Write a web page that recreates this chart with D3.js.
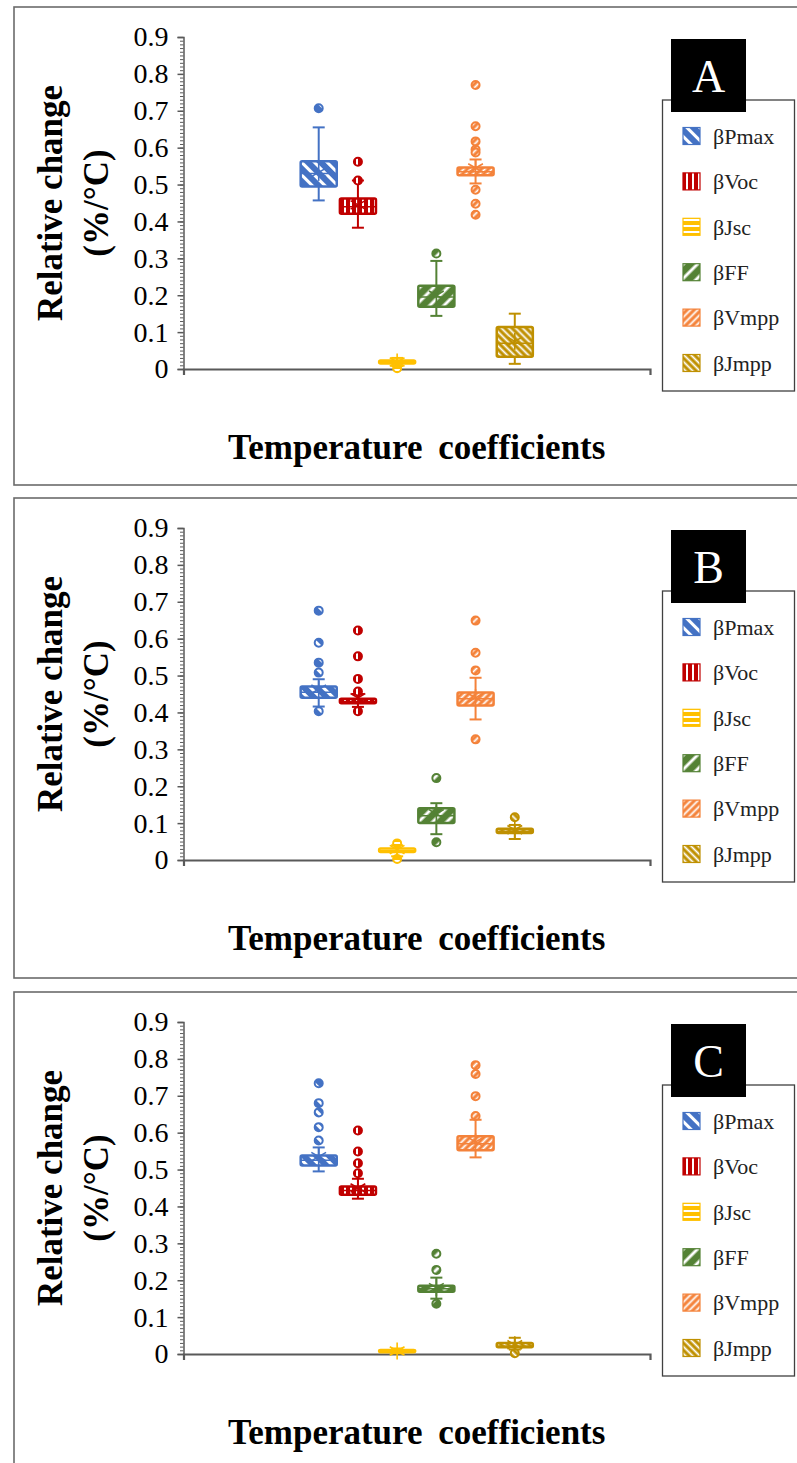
<!DOCTYPE html>
<html lang="en">
<head>
<meta charset="utf-8">
<script src="https://d3js.org/d3.v7.min.js"></script>
<style>
  body { margin: 0; background: #fff; }
</style>
</head>
<body>
<div id="chart"></div>
<script>
  var series = ["βPmax", "βVoc", "βJsc", "βFF", "βVmpp", "βJmpp"];
  var colors = ["#4472C4", "#C00000", "#FFC000", "#548235", "#F4823A", "#BF9000"];
  var category = ["Temperature coefficients"];
  var yTicks = [0, 0.1, 0.2, 0.3, 0.4, 0.5, 0.6, 0.7, 0.8, 0.9];
  var panelLabels = ["A", "B", "C"];

  // box stats per series: lo whisker, q1, median, q3, hi whisker, mean
  var statsA = [
    {lo: 0.457, q1: 0.495, med: 0.530, q3: 0.563, hi: 0.655, mean: 0.533},
    {lo: 0.383, q1: 0.421, med: 0.440, q3: 0.462, hi: 0.511, mean: 0.445},
    {lo: 0.008, q1: 0.015, med: 0.019, q3: 0.023, hi: 0.030, mean: 0.019},
    {lo: 0.144, q1: 0.169, med: 0.195, q3: 0.226, hi: 0.293, mean: 0.200},
    {lo: 0.503, q1: 0.525, med: 0.535, q3: 0.546, hi: 0.568, mean: 0.545},
    {lo: 0.014, q1: 0.033, med: 0.070, q3: 0.114, hi: 0.150, mean: 0.075}
  ];
  var outA = [
    [0.707],
    [0.562, 0.511],
    [0.002],
    [0.313],
    [0.770, 0.658, 0.617, 0.595, 0.587, 0.486, 0.448, 0.418],
    []
  ];

  var statsB = [
    {lo: 0.416, q1: 0.440, med: 0.455, q3: 0.470, hi: 0.490, mean: 0.463},
    {lo: 0.415, q1: 0.425, med: 0.430, q3: 0.437, hi: 0.450, mean: 0.440},
    {lo: 0.010, q1: 0.022, med: 0.026, q3: 0.031, hi: 0.040, mean: 0.028},
    {lo: 0.070, q1: 0.100, med: 0.120, q3: 0.140, hi: 0.154, mean: 0.125},
    {lo: 0.381, q1: 0.419, med: 0.437, q3: 0.454, hi: 0.494, mean: 0.440},
    {lo: 0.057, q1: 0.073, med: 0.078, q3: 0.085, hi: 0.095, mean: 0.082}
  ];
  var outB = [
    [0.676, 0.589, 0.535, 0.508, 0.403],
    [0.622, 0.552, 0.491, 0.457, 0.403],
    [0.045, 0.003],
    [0.222, 0.048],
    [0.649, 0.562, 0.514, 0.327],
    [0.116]
  ];

  var statsC = [
    {lo: 0.495, q1: 0.511, med: 0.525, q3: 0.538, hi: 0.560, mean: 0.535},
    {lo: 0.421, q1: 0.432, med: 0.443, q3: 0.454, hi: 0.475, mean: 0.450},
    {lo: 0.002, q1: 0.005, med: 0.007, q3: 0.011, hi: 0.015, mean: 0.008},
    {lo: 0.150, q1: 0.169, med: 0.177, q3: 0.185, hi: 0.207, mean: 0.180},
    {lo: 0.533, q1: 0.552, med: 0.570, q3: 0.590, hi: 0.635, mean: 0.575},
    {lo: 0.012, q1: 0.018, med: 0.022, q3: 0.030, hi: 0.044, mean: 0.025}
  ];
  var outC = [
    [0.734, 0.680, 0.655, 0.615, 0.579],
    [0.606, 0.549, 0.517, 0.490],
    [],
    [0.272, 0.228, 0.136],
    [0.783, 0.759, 0.699, 0.645],
    [0.002]
  ];

  var W = 797, H = 1463;
  var serif = "'Liberation Serif', 'Times New Roman', 'DejaVu Serif', serif";
  var svg = d3.select("#chart").append("svg")
      .attr("width", W)
      .attr("height", H)
      .attr("font-family", serif);

  // hatch fills, one per series
  var hatch = [
    {size: 9, stripe: 3, rot: -45},
    {size: 6, stripe: 2, rot: 0},
    {size: 6, stripe: 2, rot: 90},
    {size: 10, stripe: 3, rot: 45},
    {size: 5, stripe: 1.8, rot: 45},
    {size: 5, stripe: 1.8, rot: -45}
  ];
  var defs = svg.append("defs");
  hatch.forEach(function(h, i) {
    var p = defs.append("pattern")
        .attr("id", "pat" + i)
        .attr("patternUnits", "userSpaceOnUse")
        .attr("width", h.size)
        .attr("height", h.size)
        .attr("patternTransform", "rotate(" + h.rot + ")");
    p.append("rect").attr("width", h.size).attr("height", h.size).attr("fill", colors[i]);
    p.append("rect")
        .attr("x", (h.size - h.stripe) / 2)
        .attr("width", h.stripe)
        .attr("height", h.size)
        .attr("fill", "#fff");
  });

  var panels = [
    {label: panelLabels[0], top: 7, frameH: 478, stats: statsA, out: outA},
    {label: panelLabels[1], top: 498, frameH: 480, stats: statsB, out: outB},
    {label: panelLabels[2], top: 992, frameH: 600, stats: statsC, out: outC}
  ];

  var axisX = 183.5, axisEnd = 650, zeroY = 362, topY = 30;
  var minorTicks = d3.range(0, 91).map(function(i) { return i / 100; });

  panels.forEach(function(p) {
    var g = svg.append("g").attr("transform", "translate(0," + p.top + ")");

    g.append("rect")
        .attr("x", 14).attr("y", 0)
        .attr("width", 820).attr("height", p.frameH)
        .attr("fill", "none")
        .attr("stroke", "#6b6b6b")
        .attr("stroke-width", 1.6);

    var y = d3.scaleLinear().domain([0, 0.9]).range([zeroY, topY]);
    var x = d3.scaleBand().domain(category).range([axisX, axisEnd])
        .paddingInner(0).paddingOuter(0.498);
    var xs = d3.scaleBand().domain(series)
        .range([x(category[0]), x(category[0]) + x.bandwidth()])
        .paddingInner(0.08).paddingOuter(0.02);
    var bw = xs.bandwidth();

    // minor ticks
    var minor = g.append("g")
        .attr("transform", "translate(" + axisX + ",0)")
        .call(d3.axisLeft(y).tickValues(minorTicks).tickSize(3.5).tickFormat(""));
    minor.select(".domain").remove();
    minor.selectAll("line").attr("stroke", "#595959").attr("stroke-width", 1);

    var yAxis = g.append("g")
        .attr("transform", "translate(" + axisX + ",0)")
        .call(d3.axisLeft(y).tickValues(yTicks).tickSize(6).tickPadding(9)
          .tickFormat(function(d) { return d === 0 ? "0" : d3.format(".1f")(d); }));
    yAxis.attr("font-family", serif).attr("font-size", 28);
    yAxis.selectAll("text").attr("fill", "#000");
    yAxis.selectAll("line, path").attr("stroke", "#595959").attr("stroke-width", 1.5);

    var xAxis = g.append("g")
        .attr("transform", "translate(0," + zeroY + ")")
        .call(d3.axisBottom(x).tickValues([]).tickSizeOuter(6));
    xAxis.select(".domain").attr("stroke", "#595959").attr("stroke-width", 2.2);

    // boxes
    series.forEach(function(s, i) {
      var st = p.stats[i];
      var col = colors[i];
      var x0 = xs(s), cx = x0 + bw / 2;
      var b = g.append("g");

      b.append("line")
          .attr("x1", cx).attr("x2", cx)
          .attr("y1", y(st.lo)).attr("y2", y(st.hi))
          .attr("stroke", col).attr("stroke-width", 2);
      [st.lo, st.hi].forEach(function(v) {
        b.append("line")
            .attr("x1", cx - 6).attr("x2", cx + 6)
            .attr("y1", y(v)).attr("y2", y(v))
            .attr("stroke", col).attr("stroke-width", 2);
      });

      b.append("rect")
          .attr("x", x0).attr("y", y(st.q3))
          .attr("width", bw).attr("height", Math.max(1, y(st.q1) - y(st.q3)))
          .attr("rx", 1.5)
          .attr("fill", "url(#pat" + i + ")")
          .attr("stroke", col).attr("stroke-width", 2.5);

      b.append("line")
          .attr("x1", x0).attr("x2", x0 + bw)
          .attr("y1", y(st.med)).attr("y2", y(st.med))
          .attr("stroke", col).attr("stroke-width", 1.5);

      // mean marker
      [90, 30, -30].forEach(function(a) {
        var r = 8.5, t = a * Math.PI / 180;
        b.append("line")
            .attr("x1", cx - r * Math.cos(t)).attr("x2", cx + r * Math.cos(t))
            .attr("y1", y(st.mean) - r * Math.sin(t)).attr("y2", y(st.mean) + r * Math.sin(t))
            .attr("stroke", col).attr("stroke-width", 1.6);
      });

      b.selectAll("circle")
          .data(p.out[i])
          .enter()
          .append("circle")
          .attr("cx", cx)
          .attr("cy", function(d) { return y(d); })
          .attr("r", 4)
          .attr("fill", "url(#pat" + i + ")")
          .attr("stroke", col)
          .attr("stroke-width", 2);
    });

    // axis titles
    var midY = (y(0) + y(0.9)) / 2;
    var yt = g.append("text")
        .attr("transform", "translate(0," + midY + ") rotate(-90)")
        .attr("text-anchor", "middle")
        .attr("font-weight", "bold")
        .attr("font-size", 35);
    yt.append("tspan").attr("x", 0).attr("y", 62).text("Relative change");
    yt.append("tspan").attr("x", 0).attr("y", 108).text("(%/°C)");

    g.append("text")
        .attr("x", (axisX + axisEnd) / 2)
        .attr("y", zeroY + 90)
        .attr("text-anchor", "middle")
        .attr("font-weight", "bold")
        .attr("font-size", 35)
        .attr("word-spacing", 7)
        .text(category[0]);

    // legend
    var lgTop = zeroY - 269;
    g.append("rect")
        .attr("x", 662.5).attr("y", lgTop)
        .attr("width", 132).attr("height", 291)
        .attr("fill", "#fff")
        .attr("stroke", "#404040").attr("stroke-width", 1.3);
    series.forEach(function(s, i) {
      var cy = lgTop + 36 + i * 45.4;
      g.append("rect")
          .attr("x", 683).attr("y", cy - 8.5)
          .attr("width", 17).attr("height", 17)
          .attr("fill", "url(#pat" + i + ")")
          .attr("stroke", colors[i]).attr("stroke-width", 1.2);
      g.append("text")
          .attr("x", 713).attr("y", cy)
          .attr("dy", "0.35em")
          .attr("font-size", 22)
          .attr("fill", "#222")
          .text(s);
    });

    g.append("rect")
        .attr("x", 671).attr("y", zeroY - 330)
        .attr("width", 75).attr("height", 73)
        .attr("fill", "#000");
    g.append("text")
        .attr("x", 708.5).attr("y", zeroY - 330 + 36.5)
        .attr("dy", "0.35em")
        .attr("text-anchor", "middle")
        .attr("font-size", 46)
        .attr("fill", "#fff")
        .text(p.label);
  });
</script>
</body>
</html>
